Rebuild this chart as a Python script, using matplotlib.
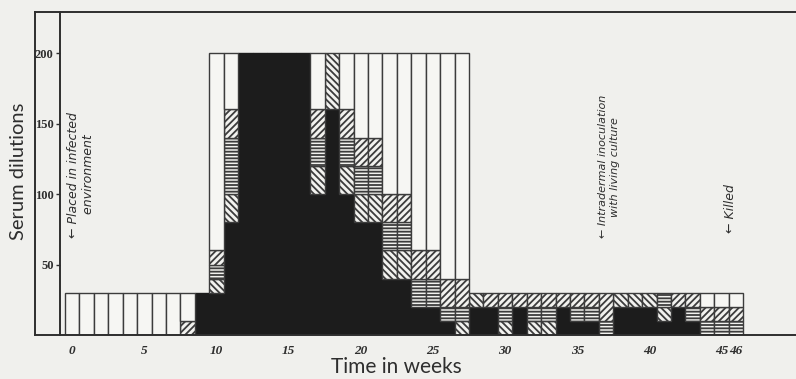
import numpy as np
import matplotlib
matplotlib.use("Agg")
import matplotlib.pyplot as plt
from matplotlib.lines import Line2D

# ── data: serum dilution reached at each agglutination grade, per week ──
weeks = np.arange(47)

black = [0, 0, 0, 0, 0, 0, 0, 0, 0, 30,
         30, 80, 200, 200, 200, 200, 200, 100, 160, 100,
         80, 80, 40, 40, 20, 20, 10, 0, 20, 20,
         0, 20, 0, 0, 20, 10, 10, 0, 20, 20,
         20, 10, 20, 10, 0, 0, 0]
back_diag = [0, 0, 0, 0, 0, 0, 0, 0, 0, 0,
             10, 20, 0, 0, 0, 0, 0, 20, 40, 20,
             20, 20, 20, 20, 0, 0, 0, 10, 10, 0,
             10, 0, 10, 10, 0, 0, 0, 0, 10, 10,
             10, 10, 0, 0, 0, 0, 0]
horiz = [0, 0, 0, 0, 0, 0, 0, 0, 0, 0,
         10, 40, 0, 0, 0, 0, 0, 20, 0, 20,
         20, 20, 20, 20, 20, 20, 10, 10, 0, 0,
         10, 0, 10, 10, 0, 10, 10, 10, 0, 0,
         0, 10, 0, 10, 10, 10, 10]
fwd_diag = [0, 0, 0, 0, 0, 0, 0, 0, 10, 0,
            10, 20, 0, 0, 0, 0, 0, 20, 0, 20,
            20, 20, 20, 20, 20, 20, 20, 20, 0, 10,
            10, 10, 10, 10, 10, 10, 10, 20, 0, 0,
            0, 0, 10, 10, 10, 10, 10]
white = [30, 30, 30, 30, 30, 30, 30, 30, 20, 0,
         140, 40, 0, 0, 0, 0, 0, 40, 0, 40,
         60, 60, 100, 100, 140, 140, 160, 160, 0, 0,
         0, 0, 0, 0, 0, 0, 0, 0, 0, 0,
         0, 0, 0, 0, 10, 10, 10]

x_ticks = [0, 5, 10, 15, 20, 25, 30, 35, 40, 45, 46]
y_ticks = [50, 100, 150, 200]

BG = "#f0f0ed"
INK = "#2e2e2e"

plt.rcParams["hatch.linewidth"] = 1.3

fig = plt.figure(figsize=(7.96, 3.79), dpi=100, facecolor=BG)
ax = fig.add_axes([60 / 796, 44 / 379, 736 / 796, 323 / 379], facecolor=BG)

layers = [
    (black, "#1c1c1c", "#1c1c1c", None),
    (back_diag, "#f2f2ef", "#3c3c3c", "\\\\\\\\\\"),
    (horiz, "#f2f2ef", "#3c3c3c", "-----"),
    (fwd_diag, "#f2f2ef", "#3c3c3c", "/////"),
    (white, "#f6f6f3", "#3c3c3c", None),
]

bottom = np.zeros(len(weeks))
for vals, face, edge, hatch in layers:
    vals = np.array(vals, dtype=float)
    m = vals > 0
    ax.bar(weeks[m], vals[m], bottom=bottom[m], width=1.0,
           color=face, edgecolor=edge, hatch=hatch, linewidth=1.0)
    bottom += vals

ax.set_xlim(-0.845, 50.16)
ax.set_ylim(0, 229.1)

for s in ["left", "top", "bottom"]:
    ax.spines[s].set_color(INK)
    ax.spines[s].set_linewidth(1.4)
ax.spines["right"].set_visible(False)

ax.set_xticks(x_ticks)
ax.set_xticklabels([str(t) for t in x_ticks], fontfamily="Liberation Serif",
                   fontstyle="italic", fontweight="bold", fontsize=9.5, color=INK)
ax.tick_params(axis="x", length=0, pad=7)
ax.set_yticks(y_ticks)
ax.set_yticklabels([str(t) for t in y_ticks], fontfamily="Liberation Serif",
                   fontweight="bold", fontsize=9, color=INK)
ax.tick_params(axis="y", length=3, width=1, color=INK, pad=1.5)

# outer frame of the plate
for xs, ys in [([35, 35], [44, 367]), ([35, 60], [367, 367]), ([35, 60], [44, 44])]:
    fig.add_artist(Line2D([v / 796 for v in xs], [v / 379 for v in ys],
                          transform=fig.transFigure, color=INK, lw=1.4))

fig.text(19 / 796, 1 - 171 / 379, "Serum dilutions", rotation=90,
         ha="center", va="center", fontsize=14.5, fontfamily="Lato", color=INK)
fig.text(396 / 796, 1 - 367 / 379, "Time in weeks", ha="center", va="center",
         fontsize=15, fontfamily="Lato", color=INK)

note = dict(rotation=90, ha="left", va="bottom", fontstyle="italic",
            color=INK, multialignment="left", fontfamily="DejaVu Sans")
ax.text(-0.35, 69, "\u2190 Placed in infected\n      environment", fontsize=9, **note)
ax.text(36.45, 69, "\u2190 Intradermal inoculation\n      with living culture",
        fontsize=8, **note)
ax.text(45.15, 72, "\u2190 Killed", fontsize=9, **note)

fig.savefig("out.png", dpi=100, facecolor=BG)
